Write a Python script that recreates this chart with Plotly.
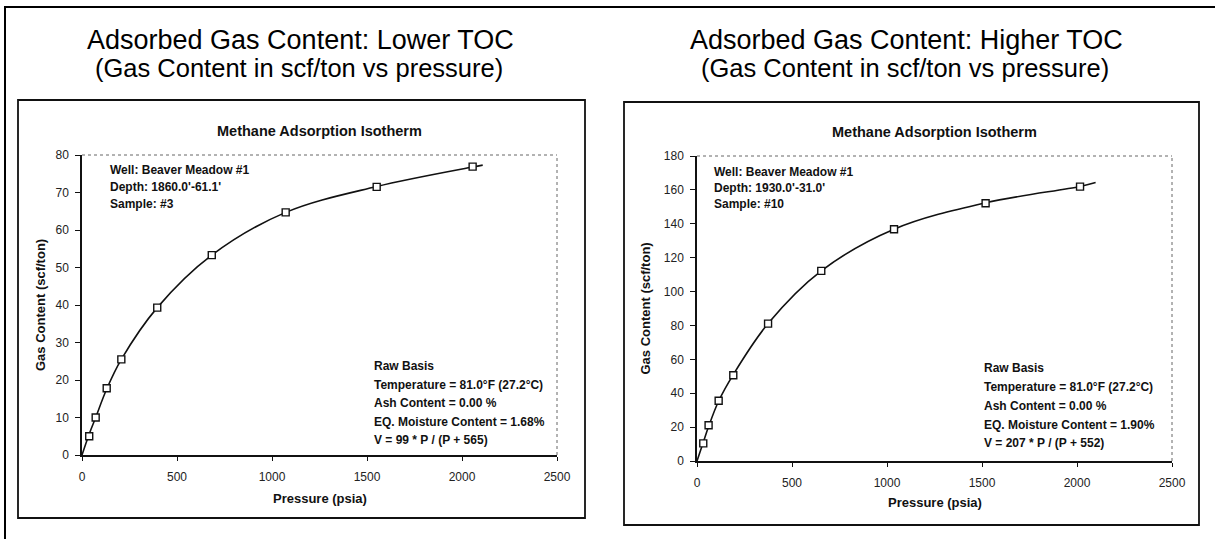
import plotly.graph_objects as go

W, H = 1215, 539

# ---- data ----
low_pressure = [38, 72, 130, 207, 396, 683, 1072, 1551, 2056]
low_gas = [5.0, 10.0, 17.8, 25.5, 39.3, 53.3, 64.7, 71.5, 76.9]
low_curve_p = [0, 38, 72, 130, 207, 396, 683, 1072, 1551, 2056, 2109]
low_curve_v = [0, 5.6, 10.0, 17.6, 25.5, 39.3, 53.3, 64.7, 71.6, 76.8, 77.3]

high_pressure = [33, 61, 114, 191, 374, 654, 1037, 1519, 2016]
high_gas = [10.4, 21.1, 35.6, 50.6, 81.1, 112.2, 136.8, 152.1, 161.9]
high_curve_p = [0, 33, 61, 114, 191, 374, 654, 1037, 1519, 2016, 2098]
high_curve_v = [0, 11.0, 20.3, 35.4, 51.0, 81.1, 112.2, 136.8, 152.4, 162.0, 164.3]

x_ticks = [0, 500, 1000, 1500, 2000, 2500]
low_y_ticks = [0, 10, 20, 30, 40, 50, 60, 70, 80]
high_y_ticks = [0, 20, 40, 60, 80, 100, 120, 140, 160, 180]

titles = ["Adsorbed Gas Content: Lower TOC", "Adsorbed Gas Content: Higher TOC"]
subtitle = "(Gas Content in scf/ton vs pressure)"
chart_title = "Methane Adsorption Isotherm"
low_info_top = ["Well: Beaver Meadow #1", "Depth: 1860.0'-61.1'", "Sample: #3"]
high_info_top = ["Well: Beaver Meadow #1", "Depth: 1930.0'-31.0'", "Sample: #10"]
low_info_bottom = ["Raw Basis", "Temperature = 81.0\u00b0F (27.2\u00b0C)", "Ash Content = 0.00 %",
                   "EQ. Moisture Content = 1.68%", "V = 99 * P / (P + 565)"]
high_info_bottom = ["Raw Basis", "Temperature = 81.0\u00b0F (27.2\u00b0C)", "Ash Content = 0.00 %",
                    "EQ. Moisture Content = 1.90%", "V = 207 * P / (P + 552)"]

FONT = "Liberation Sans, Arial, sans-serif"


def px(x):
    return x / W


def py(y):
    return 1 - y / H


fig = go.Figure()

for (cp, cv, pp, gg, xa, ya) in [
    (low_curve_p, low_curve_v, low_pressure, low_gas, "x", "y"),
    (high_curve_p, high_curve_v, high_pressure, high_gas, "x2", "y2"),
]:
    fig.add_trace(go.Scatter(x=cp, y=cv, mode="lines", xaxis=xa, yaxis=ya,
                             line=dict(color="#111", width=1.6, shape="spline", smoothing=1.0),
                             hoverinfo="skip", showlegend=False))
    fig.add_trace(go.Scatter(x=pp, y=gg, mode="markers", xaxis=xa, yaxis=ya,
                             marker=dict(symbol="square", size=7, color="white",
                                         line=dict(color="#111", width=1.4)),
                             showlegend=False))

panels = [
    dict(x0=82, x1=557, y0=155, y1=455, ymax=80, yt=low_y_ticks, box=(18, 100, 585, 518),
         title_cx=300, ytitle_x=40, xtitle_y=498, info_x=108, info_y=[170, 187, 204],
         bot_x=372, bot_y=[366, 385, 403, 422, 440], chart_title_y=131),
    dict(x0=697, x1=1172, y0=156, y1=461, ymax=180, yt=high_y_ticks, box=(624, 102, 1199, 525),
         title_cx=906, ytitle_x=645, xtitle_y=503, info_x=712, info_y=[172, 188, 204],
         bot_x=982, bot_y=[368, 387, 406, 425, 443], chart_title_y=132),
]

layout_axes = {}
for i, p in enumerate(panels):
    sfx = "" if i == 0 else str(i + 1)
    layout_axes["xaxis" + sfx] = dict(
        domain=[px(p["x0"]), px(p["x1"])], range=[0, 2500], tickvals=x_ticks,
        anchor="y" + sfx, showgrid=False, zeroline=False, showline=True, automargin=False,
        linecolor="#111", linewidth=1.5, ticks="outside", ticklen=4, tickcolor="#111",
        tickfont=dict(family=FONT, size=12, color="#222"), ticklabelstandoff=6)
    layout_axes["yaxis" + sfx] = dict(
        domain=[py(p["y1"]), py(p["y0"])], range=[0, p["ymax"]], tickvals=p["yt"],
        anchor="x" + sfx, showgrid=False, zeroline=False, showline=True, automargin=False,
        linecolor="#111", linewidth=1.5, ticks="outside", ticklen=5, tickcolor="#111",
        tickfont=dict(family=FONT, size=12, color="#222"), ticklabelstandoff=4)

shapes = []
shapes.append(dict(type="rect", xref="paper", yref="paper", x0=px(5), x1=px(1230), y0=py(560), y1=py(7),
                   line=dict(color="#000", width=2)))
annotations = []
for i, p in enumerate(panels):
    sfx = "" if i == 0 else str(i + 1)
    bx0, by0, bx1, by1 = p["box"]
    shapes.append(dict(type="rect", xref="paper", yref="paper", x0=px(bx0), x1=px(bx1),
                       y0=py(by1), y1=py(by0), line=dict(color="#111", width=1.8)))
    shapes.append(dict(type="line", xref="x" + sfx + " domain", yref="y" + sfx + " domain",
                       x0=0, x1=1, y0=1, y1=1, line=dict(color="#666", width=1, dash="dot")))
    shapes.append(dict(type="line", xref="x" + sfx + " domain", yref="y" + sfx + " domain",
                       x0=1, x1=1, y0=0, y1=1, line=dict(color="#666", width=1, dash="dot")))
    annotations.append(dict(text=titles[i], xref="paper", yref="paper", x=px(p["title_cx"]), y=py(40),
                            xanchor="center", yanchor="middle", showarrow=False,
                            font=dict(family=FONT, size=27, color="#000")))
    annotations.append(dict(text=subtitle, xref="paper", yref="paper", x=px(p["title_cx"] - 1), y=py(68),
                            xanchor="center", yanchor="middle", showarrow=False,
                            font=dict(family=FONT, size=25.5, color="#000")))
    cx = (p["x0"] + p["x1"]) / 2
    annotations.append(dict(text="<b>" + chart_title + "</b>", xref="paper", yref="paper",
                            x=px(cx), y=py(p["chart_title_y"]), xanchor="center", yanchor="middle",
                            showarrow=False, font=dict(family=FONT, size=14.5, color="#111")))
    annotations.append(dict(text="<b>Gas Content (scf/ton)</b>", xref="paper", yref="paper",
                            x=px(p["ytitle_x"]), y=py((p["y0"] + p["y1"]) / 2), textangle=-90,
                            xanchor="center", yanchor="middle", showarrow=False,
                            font=dict(family=FONT, size=13, color="#111")))
    annotations.append(dict(text="<b>Pressure (psia)</b>", xref="paper", yref="paper",
                            x=px(cx), y=py(p["xtitle_y"]), xanchor="center", yanchor="middle",
                            showarrow=False, font=dict(family=FONT, size=13, color="#111")))
    top_lines = low_info_top if i == 0 else high_info_top
    for t, yy in zip(top_lines, p["info_y"]):
        annotations.append(dict(text="<b>" + t + "</b>", xref="paper", yref="paper",
                                x=px(p["info_x"]), y=py(yy), xanchor="left", yanchor="middle",
                                showarrow=False, font=dict(family=FONT, size=12, color="#111")))
    bot_lines = low_info_bottom if i == 0 else high_info_bottom
    for t, yy in zip(bot_lines, p["bot_y"]):
        annotations.append(dict(text="<b>" + t + "</b>", xref="paper", yref="paper",
                                x=px(p["bot_x"]), y=py(yy), xanchor="left", yanchor="middle",
                                showarrow=False, font=dict(family=FONT, size=12, color="#111")))

fig.update_layout(template="none", width=W, height=H, autosize=False,
                  margin=dict(l=0, r=0, t=0, b=0, pad=0),
                  paper_bgcolor="white", plot_bgcolor="white",
                  shapes=shapes, annotations=annotations, showlegend=False, **layout_axes)

fig.write_html("out.html", config={"displayModeBar": False},
               post_script="document.body.style.margin='0';document.body.style.padding='0';"
                           "document.body.style.overflow='hidden';")
